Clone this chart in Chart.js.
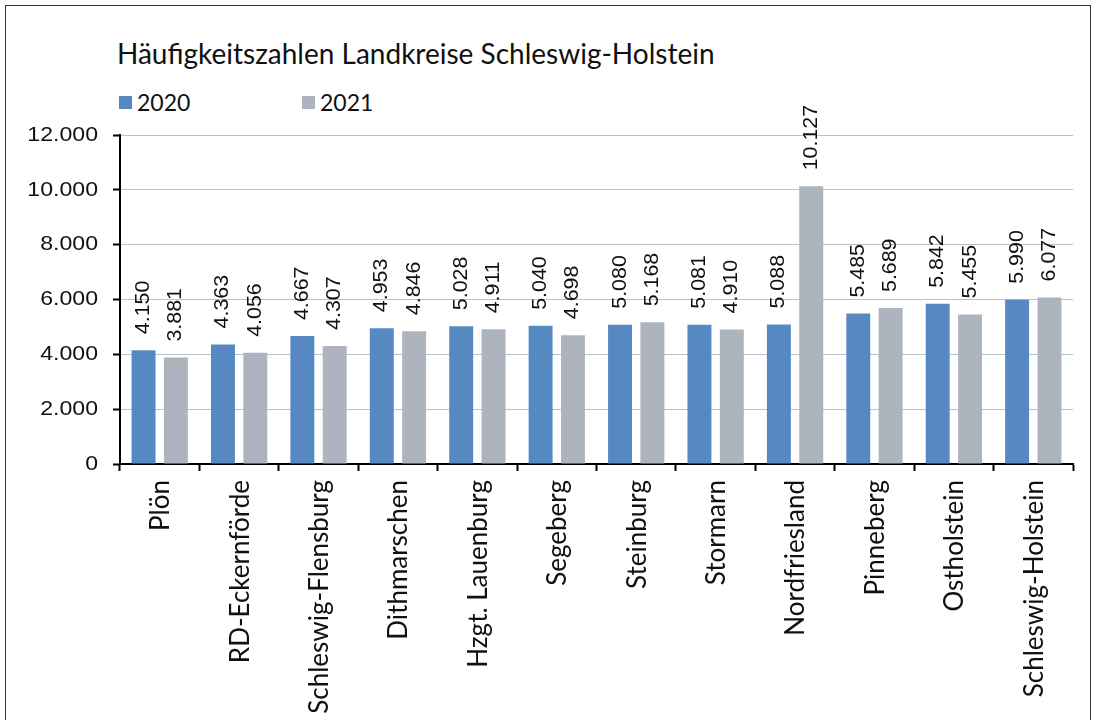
<!DOCTYPE html>
<html>
<head>
<meta charset="utf-8">
<script src="https://cdn.jsdelivr.net/npm/chart.js@4.4.1/dist/chart.umd.min.js"></script>
<style>
  body { margin:0; background:#fff; width:1094px; height:720px; overflow:hidden; position:relative; }
  #frame { position:absolute; left:5px; top:5px; width:1084px; height:760px; border:1px solid #333; }
  #title { position:absolute; left:117px; top:36px; font:28px Lato, sans-serif; color:#111; white-space:nowrap; }
  .leg { position:absolute; top:88px; font:23px Lato, sans-serif; color:#111; display:flex; align-items:center; }
  .leg i { display:inline-block; width:13px; height:13px; margin-right:5px; }
  canvas { position:absolute; left:0; top:0; }
</style>
</head>
<body>
<div id="frame"></div>
<div id="title">Häufigkeitszahlen Landkreise Schleswig-Holstein</div>
<div class="leg" style="left:119px"><i style="background:#5689c2"></i>2020</div>
<div class="leg" style="left:302px"><i style="background:#adb4bd"></i>2021</div>
<canvas id="hzChart" width="1094" height="720"></canvas>
<script>
// Landkreise, sortiert nach HZ 2020
const districts = ['Plön', 'RD-Eckernförde', 'Schleswig-Flensburg', 'Dithmarschen', 'Hzgt. Lauenburg',
  'Segeberg', 'Steinburg', 'Stormarn', 'Nordfriesland', 'Pinneberg', 'Ostholstein', 'Schleswig-Holstein'];
const hz2020 = [4150, 4363, 4667, 4953, 5028, 5040, 5080, 5081, 5088, 5485, 5842, 5990];
const hz2021 = [3881, 4056, 4307, 4846, 4911, 4698, 5168, 4910, 10127, 5689, 5455, 6077];
const yTicks = [0, 2000, 4000, 6000, 8000, 10000, 12000];

const fmt = n => String(n).replace(/\B(?=(\d{3})+(?!\d))/g, '.');

// text in the original is a bit wide, so labels get drawn with a slight stretch
const stretchText = {
  id: 'stretchText',
  afterDatasetsDraw(chart) {
    const ctx = chart.ctx;
    ctx.save();
    ctx.fillStyle = '#111';
    ctx.font = '20px "Liberation Sans", Arial, sans-serif';
    ctx.textAlign = 'left';
    ctx.textBaseline = 'middle';
    chart.data.datasets.forEach((ds, d) => {
      chart.getDatasetMeta(d).data.forEach((bar, i) => {
        ctx.save();
        ctx.translate(bar.x, bar.y - 16);
        ctx.rotate(-Math.PI / 2);
        ctx.scale(1.07, 1);
        ctx.fillText(fmt(ds.data[i]), 0, 0);
        ctx.restore();
      });
    });
    ctx.restore();
  },
  afterDraw(chart) {
    const ctx = chart.ctx, xs = chart.scales.x, ys = chart.scales.y;
    ctx.save();
    ctx.fillStyle = '#111';
    // y axis labels
    ctx.font = '21px "Liberation Sans", Arial, sans-serif';
    ctx.textAlign = 'right';
    ctx.textBaseline = 'middle';
    yTicks.forEach(v => {
      ctx.save();
      ctx.translate(xs.left - 22, ys.getPixelForValue(v));
      ctx.scale(1.1, 1);
      ctx.fillText(fmt(v), 0, 0);
      ctx.restore();
    });
    // category labels, rotated
    ctx.font = '26px Lato, sans-serif';
    districts.forEach((name, i) => {
      ctx.save();
      ctx.translate(xs.getPixelForValue(i) + 1, ys.bottom + 16);
      ctx.rotate(-Math.PI / 2);
      ctx.textAlign = 'right';
      ctx.fillText(name, 0, 0);
      ctx.restore();
    });
    ctx.restore();
  }
};

new Chart(document.getElementById('hzChart'), {
  type: 'bar',
  data: {
    labels: districts,
    datasets: [
      { label: '2020', data: hz2020, backgroundColor: '#5689c2', categoryPercentage: 0.815, barPercentage: 0.74 },
      { label: '2021', data: hz2021, backgroundColor: '#adb4bd', categoryPercentage: 0.815, barPercentage: 0.74 }
    ]
  },
  options: {
    responsive: false,
    animation: false,
    layout: { padding: { top: 135, right: 21, left: 0, bottom: 0 } },
    plugins: { legend: { display: false }, tooltip: { enabled: false } },
    scales: {
      x: {
        grid: { offset: true, drawOnChartArea: false, tickLength: 7, tickColor: '#000', tickWidth: 2 },
        border: { color: '#000', width: 2 },
        ticks: { color: 'rgba(0,0,0,0)', autoSkip: false },
        afterFit(s) { s.height = 256; }
      },
      y: {
        min: 0, max: 12000,
        ticks: { stepSize: 2000, color: 'rgba(0,0,0,0)' },
        grid: { color: '#b9c1cb', lineWidth: 1, tickLength: 7, tickColor: '#000', tickWidth: 2 },
        border: { color: '#000', width: 2 },
        afterFit(s) { s.width = 120; }
      }
    }
  },
  plugins: [stretchText]
});
</script>
</body>
</html>
